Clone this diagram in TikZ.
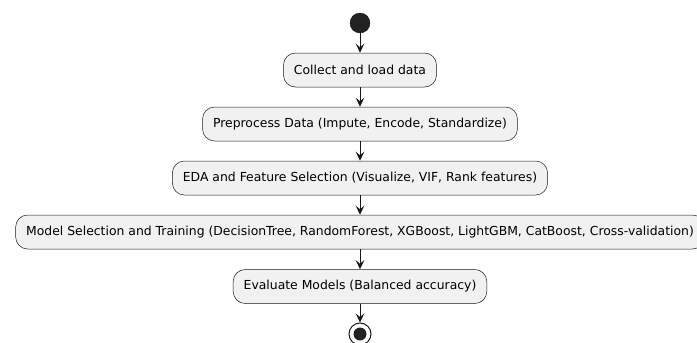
\documentclass[tikz,border=0pt]{standalone}
\usepackage{fontspec}
\setmainfont{DejaVu Sans}
\usetikzlibrary{arrows.meta}
\definecolor{boxfill}{HTML}{F1F1F1}
\definecolor{boxline}{HTML}{181818}
\definecolor{dotfill}{HTML}{222222}
\begin{document}
\begin{tikzpicture}[x=1pt,y=-1pt,
  act/.style={draw=boxline, fill=boxfill, line width=0.5pt, rounded corners=12pt,
    minimum height=34pt, inner xsep=10.5pt, font=\fontsize{12.4}{14}\selectfont},
  flow/.style={draw=boxline, line width=0.8pt, -{Stealth[length=9pt,width=8.5pt,inset=3.5pt]}}]
\useasboundingbox (0,0) rectangle (697,343);
\node[circle, fill=dotfill, draw=boxline, minimum size=20pt, inner sep=0pt] (start) at (360,23) {};
\node[act] (a1) at (360,70) {Collect and load data};
\node[act] (a2) at (360,124) {Preprocess Data (Impute, Encode, Standardize)};
\node[act] (a3) at (360,178) {EDA and Feature Selection (Visualize, VIF, Rank features)};
\node[act] (a4) at (360,232) {Model Selection and Training (DecisionTree, RandomForest, XGBoost, LightGBM, CatBoost, Cross-validation)};
\node[act] (a5) at (360,286.5) {Evaluate Models (Balanced accuracy)};
\node[circle, draw=boxline, line width=1pt, minimum size=22pt, inner sep=0pt] (stop) at (360,334) {};
\fill[dotfill] (stop.center) circle (6.5pt);
\draw[flow] (start) -- (a1);
\draw[flow] (a1) -- (a2);
\draw[flow] (a2) -- (a3);
\draw[flow] (a3) -- (a4);
\draw[flow] (a4) -- (a5);
\draw[flow] (a5) -- (stop);
\end{tikzpicture}
\end{document}
